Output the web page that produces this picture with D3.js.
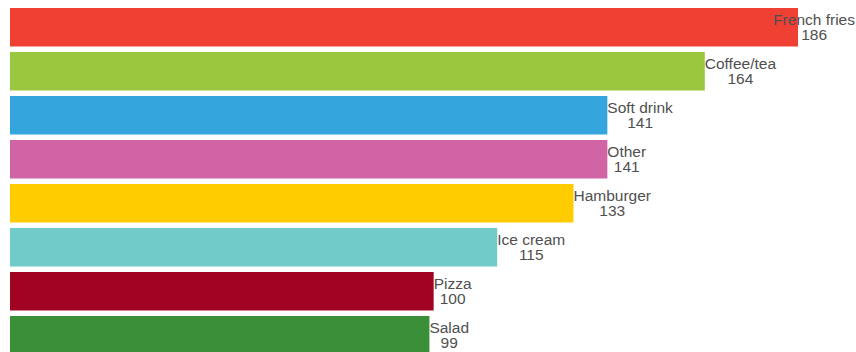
<!DOCTYPE html>
<html>
<head>
<meta charset="utf-8">
<script src="https://cdn.jsdelivr.net/npm/d3@7"></script>
<style>
  html, body { margin: 0; padding: 0; background: #fff; }
  svg { display: block; }
</style>
</head>
<body>
<svg id="chart" width="856" height="352"></svg>
<script>
// Favourite fast-food items, sorted by count
const categories = ["French fries", "Coffee/tea", "Soft drink", "Other", "Hamburger", "Ice cream", "Pizza", "Salad"];
const values = [186, 164, 141, 141, 133, 115, 100, 99];
const colors = ["#f03f33", "#9bc73e", "#35a5de", "#d064a5", "#ffcc00", "#70cbc9", "#a00422", "#3a8f38"];

const width = 856, height = 352;
const svg = d3.select("#chart");

const x = d3.scaleLinear().domain([0, d3.max(values)]).range([10, 798]);
const y = d3.scaleBand().domain(categories).range([8, 354.5]).paddingInner(0.125).paddingOuter(0);

const rows = categories.map((c, i) => ({ name: c, value: values[i], color: colors[i] }));

svg.selectAll("rect.bar")
  .data(rows)
  .join("rect")
  .attr("class", "bar")
  .attr("x", x(0))
  .attr("y", d => y(d.name))
  .attr("width", d => x(d.value) - x(0))
  .attr("height", y.bandwidth())
  .attr("fill", d => d.color);

// Two-line label: name over value, centred in a block that starts at the bar end
const labels = svg.selectAll("g.label")
  .data(rows)
  .join("g")
  .attr("class", "label")
  .style("font-family", "'Liberation Sans', Arial, sans-serif")
  .style("font-size", "15.5px")
  .attr("fill", "#505050");

labels.each(function (d) {
  const g = d3.select(this);
  const cy = y(d.name) + y.bandwidth() / 2;
  const t1 = g.append("text").attr("y", cy - 2.5).attr("text-anchor", "middle").text(d.name);
  const t2 = g.append("text").attr("y", cy + 12.3).attr("text-anchor", "middle").text(d.value);
  const w = Math.max(t1.node().getComputedTextLength(), t2.node().getComputedTextLength());
  const left = Math.min(x(d.value), width - 1 - w);
  t1.attr("x", left + w / 2);
  t2.attr("x", left + w / 2);
});
</script>
</body>
</html>
